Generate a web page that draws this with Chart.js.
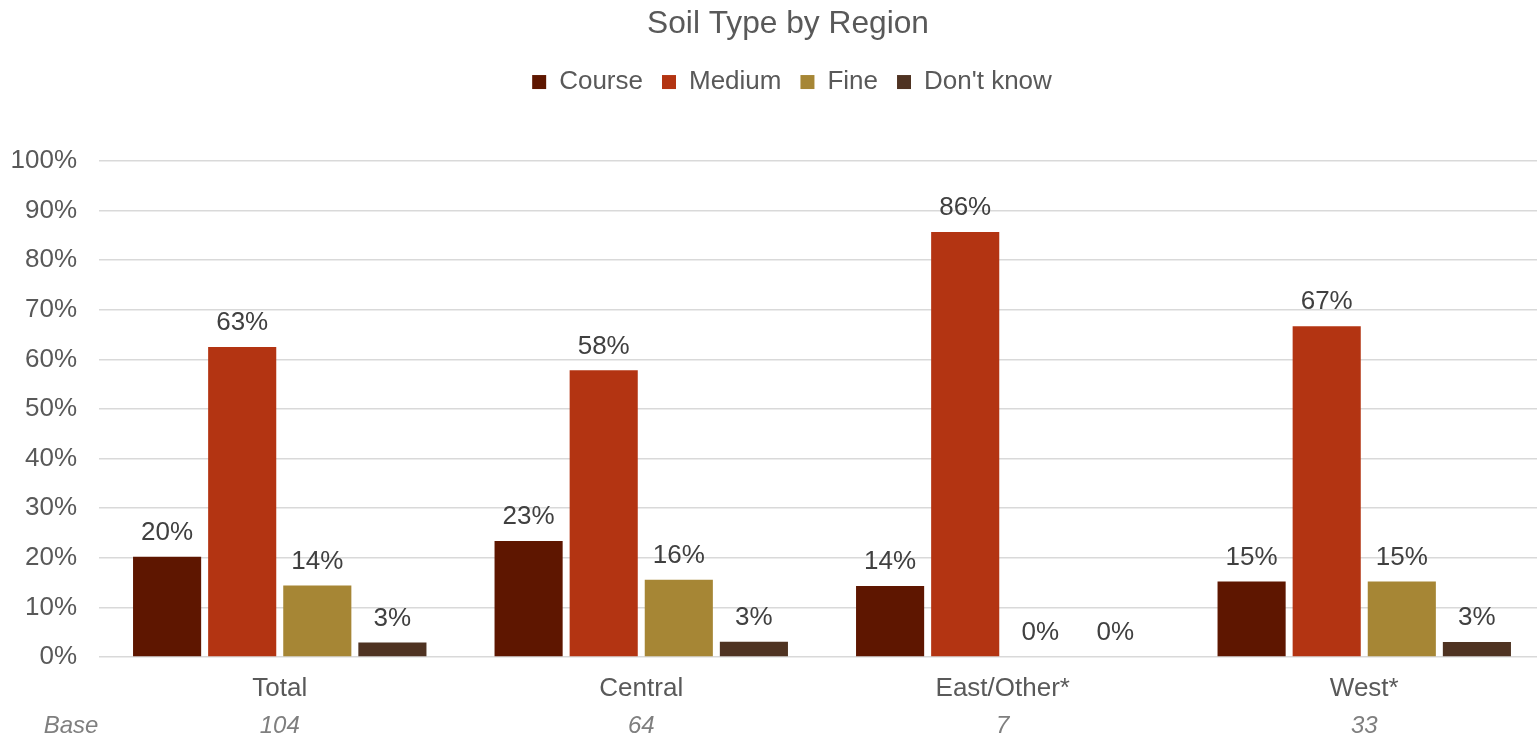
<!DOCTYPE html>
<html>
<head>
<meta charset="utf-8">
<script src="https://cdn.jsdelivr.net/npm/chart.js@4.4.1/dist/chart.umd.min.js"></script>
<style>
  html, body { margin: 0; padding: 0; background: #ffffff; overflow: hidden; }
  #wrap { width: 1537px; height: 737px; }
</style>
</head>
<body>
<div id="wrap"><canvas id="c" width="1537" height="737"></canvas></div>
<script>
// Regions and respondent bases
const regions = ['Total', 'Central', 'East/Other*', 'West*'];
const bases = ['104', '64', '7', '33'];

// Share of respondents per soil type (%)
const course   = [20.2, 23.4, 14.3, 15.2];
const medium   = [62.5, 57.8, 85.7, 66.7];
const fine     = [14.4, 15.6, 0, 15.2];
const dontKnow = [2.9, 3.1, 0, 3.0];

const yTicks = [0, 10, 20, 30, 40, 50, 60, 70, 80, 90, 100];

const FONT = "'Liberation Sans', Arial, sans-serif";

// Value labels above each bar
const valueLabels = {
  id: 'valueLabels',
  afterDatasetsDraw(chart) {
    const ctx = chart.ctx;
    ctx.save();
    ctx.font = '26px ' + FONT;
    ctx.fillStyle = '#404040';
    ctx.textAlign = 'center';
    ctx.textBaseline = 'middle';
    chart.data.datasets.forEach((ds, di) => {
      const meta = chart.getDatasetMeta(di);
      meta.data.forEach((bar, i) => {
        ctx.fillText(Math.round(ds.data[i]) + '%', bar.x, bar.y - 24);
      });
    });
    ctx.restore();
  }
};

// "Base" row under the category axis
const baseRow = {
  id: 'baseRow',
  afterDraw(chart) {
    const ctx = chart.ctx;
    const x = chart.scales.x;
    ctx.save();
    ctx.font = 'italic 24px ' + FONT;
    ctx.fillStyle = '#7F7F7F';
    ctx.textBaseline = 'middle';
    ctx.textAlign = 'center';
    ctx.fillText('Base', 71, 726);
    bases.forEach((b, i) => ctx.fillText(b, x.getPixelForValue(i), 726));
    ctx.restore();
  }
};

// Legend-to-plot gap, header centring and a plot area that runs
// slightly past the right edge of the canvas
const frameLayout = {
  id: 'frameLayout',
  beforeInit(chart) {
    const fit = chart.legend.fit;
    chart.legend.fit = function () {
      fit.bind(this)();
      this.height += 56;
    };
  },
  afterLayout(chart) {
    chart.titleBlock.left += 39;
    chart.legend.left += 47;
    const extra = 8;
    const x = chart.scales.x;
    x.right += extra;
    x.width += extra;
    x.configure();
    chart.chartArea.right += extra;
    chart.chartArea.width += extra;
  }
};

new Chart(document.getElementById('c'), {
  type: 'bar',
  data: {
    labels: regions,
    datasets: [
      { label: 'Course', data: course, backgroundColor: '#5E1600' },
      { label: 'Medium', data: medium, backgroundColor: '#B33412' },
      { label: 'Fine', data: fine, backgroundColor: '#A68635' },
      { label: "Don't know", data: dontKnow, backgroundColor: '#4F3322' }
    ]
  },
  options: {
    responsive: false,
    animation: false,
    layout: { padding: { top: 5, left: 0, right: 0, bottom: 0 } },
    datasets: { bar: { categoryPercentage: 0.831, barPercentage: 0.907 } },
    plugins: {
      title: {
        display: true,
        text: 'Soil Type by Region',
        color: '#595959',
        font: { family: FONT, size: 31.7, weight: 'normal' },
        padding: { top: 0, bottom: 7 }
      },
      legend: {
        display: true,
        position: 'top',
        labels: {
          color: '#595959',
          font: { family: FONT, size: 26 },
          boxWidth: 14,
          boxHeight: 14,
          padding: 19
        }
      },
      tooltip: { enabled: false }
    },
    scales: {
      x: {
        grid: { display: false, drawTicks: false },
        border: { display: false },
        ticks: {
          color: '#595959',
          font: { family: FONT, size: 26 },
          padding: 16,
          maxRotation: 0
        },
        afterFit(scale) { scale.height = 80; }
      },
      y: {
        min: 0,
        max: 100,
        afterBuildTicks(scale) { scale.ticks = yTicks.map(v => ({ value: v })); },
        grid: { color: '#D9D9D9', lineWidth: 1.5, drawTicks: false },
        border: { display: false },
        ticks: {
          color: '#595959',
          font: { family: FONT, size: 26 },
          padding: 22,
          callback: v => v + '%'
        },
        afterFit(scale) { scale.width = 99; }
      }
    }
  },
  plugins: [valueLabels, baseRow, frameLayout]
});
</script>
</body>
</html>
